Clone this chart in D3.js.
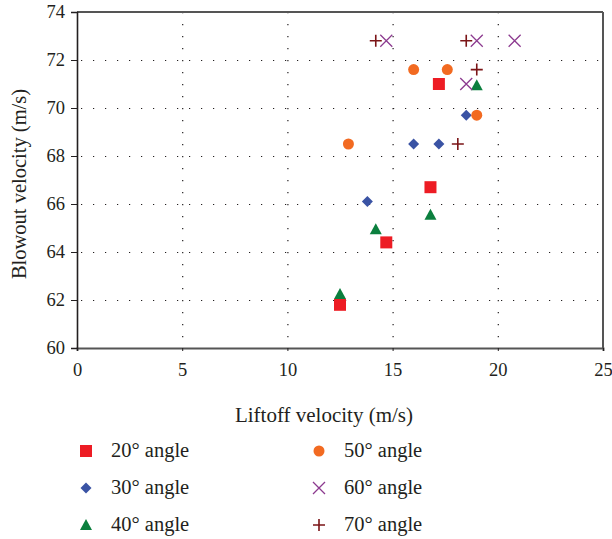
<!DOCTYPE html>
<html>
<head>
<meta charset="utf-8">
<script src="https://cdn.jsdelivr.net/npm/d3@7"></script>
<style>
  body { margin: 0; background: #fff; }
  .grid line { stroke: #231f20; stroke-width: 1.2; stroke-dasharray: 1.2,10.8; }
  .grid path { display: none; }
</style>
</head>
<body>
<div id="chart"></div>
<script>

// series names
var series = ["20\u00b0 angle", "30\u00b0 angle", "40\u00b0 angle", "50\u00b0 angle", "60\u00b0 angle", "70\u00b0 angle"];

// liftoff velocity (m/s), per series
var liftoff20 = [17.2, 16.8, 14.7, 12.5];
var liftoff30 = [18.5, 16.0, 17.2, 13.8];
var liftoff40 = [19.0, 16.8, 14.2, 12.5];
var liftoff50 = [16.0, 17.6, 19.0, 12.9];
var liftoff60 = [14.7, 19.0, 20.8, 18.5];
var liftoff70 = [14.2, 18.5, 19.0, 18.1];

// blowout velocity (m/s), per series
var blowout20 = [71.0, 66.7, 64.4, 61.8];
var blowout30 = [69.7, 68.5, 68.5, 66.1];
var blowout40 = [70.95, 65.55, 64.95, 62.25];
var blowout50 = [71.6, 71.6, 69.7, 68.5];
var blowout60 = [72.8, 72.8, 72.8, 71.0];
var blowout70 = [72.8, 72.8, 71.6, 68.5];

var xTicks = [0, 5, 10, 15, 20, 25];
var yTicks = [60, 62, 64, 66, 68, 70, 72, 74];

var colours = ["#ed1c24", "#3a53a4", "#0b7f3e", "#f26a21", "#8c3a8f", "#7b1517"];
var shapes = ["square", "diamond", "triangle", "circle", "cross", "plus"];

var allX = [liftoff20, liftoff30, liftoff40, liftoff50, liftoff60, liftoff70];
var allY = [blowout20, blowout30, blowout40, blowout50, blowout60, blowout70];

var serif = "'Liberation Serif'";

var margin = {top: 12, right: 9, bottom: 191, left: 77},
    width = 612 - margin.left - margin.right,
    height = 539 - margin.top - margin.bottom;

var x = d3.scaleLinear().domain([0, 25]).range([0, width]);
var y = d3.scaleLinear().domain([60, 74]).range([height, 0]);

var svg = d3.select("#chart").append("svg")
    .attr("width", 612)
    .attr("height", 539)
  .append("g")
    .attr("transform", "translate(" + margin.left + "," + margin.top + ")");

// gridlines
svg.append("g")
    .attr("class", "grid")
    .call(d3.axisBottom(x).tickValues(xTicks.slice(1, -1)).tickSize(height).tickFormat(""));

svg.append("g")
    .attr("class", "grid")
    .call(d3.axisRight(y).tickValues(yTicks.slice(1, -1)).tickSize(width).tickFormat(""))
    .selectAll("line").attr("x1", 4);

// frame top / right
svg.append("line").attr("x1", 0).attr("x2", width).attr("y1", 0).attr("y2", 0)
    .attr("stroke", "#555").attr("stroke-width", 2);
svg.append("line").attr("x1", width).attr("x2", width).attr("y1", 0).attr("y2", height)
    .attr("stroke", "#555").attr("stroke-width", 2);

// x axis
var xAxis = svg.append("g")
    .attr("transform", "translate(0," + height + ")")
    .call(d3.axisBottom(x).tickValues(xTicks).tickSize(3).tickPadding(12));
xAxis.select(".domain").attr("stroke", "#555").attr("stroke-width", 2);
xAxis.selectAll("line").attr("stroke", "#231f20");
xAxis.selectAll("text")
    .style("font-family", serif).style("font-size", "18.5px").attr("fill", "#231f20");

// y axis
var yAxis = svg.append("g")
    .call(d3.axisLeft(y).tickValues(yTicks).tickSize(6).tickPadding(6));
yAxis.select(".domain").attr("stroke", "#231f20").attr("stroke-width", 1.6);
yAxis.selectAll("line").attr("stroke", "#231f20");
yAxis.selectAll("text")
    .style("font-family", serif).style("font-size", "18.5px").attr("fill", "#231f20");

// axis titles
svg.append("text")
    .attr("x", 247)
    .attr("y", 410)
    .attr("text-anchor", "middle")
    .style("font-family", serif)
    .style("font-size", "21px")
    .attr("fill", "#231f20")
    .text("Liftoff velocity (m/s)");

svg.append("text")
    .attr("transform", "translate(-51," + 172 + ") rotate(-90)")
    .attr("text-anchor", "middle")
    .style("font-family", serif)
    .style("font-size", "20.5px")
    .attr("fill", "#231f20")
    .text("Blowout velocity (m/s)");

// marker drawing
function drawMarker(g, shape, colour) {
    if (shape == "square") {
        g.append("rect").attr("x", -6).attr("y", -6).attr("width", 12).attr("height", 12).attr("fill", colour);
    } else if (shape == "diamond") {
        g.append("path").attr("d", "M0,-5.5L5.5,0L0,5.5L-5.5,0Z").attr("fill", colour);
    } else if (shape == "triangle") {
        g.append("path").attr("d", "M0,-6L6,5L-6,5Z").attr("fill", colour);
    } else if (shape == "circle") {
        g.append("circle").attr("r", 5.5).attr("fill", colour);
    } else if (shape == "cross") {
        g.append("path").attr("d", "M-6,-6L6,6M6,-6L-6,6").attr("stroke", colour).attr("stroke-width", 1.3).attr("fill", "none");
    } else {
        g.append("path").attr("d", "M-6,0L6,0M0,-6L0,6").attr("stroke", colour).attr("stroke-width", 1.6).attr("fill", "none");
    }
}

// points
series.forEach(function(name, s) {
    var pts = allX[s].map(function(v, i) { return {x: v, y: allY[s][i]}; });
    svg.selectAll(".pt" + s)
        .data(pts)
        .enter().append("g")
        .attr("class", "pt" + s)
        .attr("transform", function(d) { return "translate(" + x(d.x) + "," + y(d.y) + ")"; })
        .each(function() { drawMarker(d3.select(this), shapes[s], colours[s]); });
});

// legend
var legend = svg.selectAll(".legend")
    .data(series)
    .enter().append("g")
    .attr("class", "legend")
    .attr("transform", function(d, i) {
        var col = Math.floor(i / 3), row = i % 3;
        return "translate(" + (9 + col * 233) + "," + (439 + row * 37) + ")";
    });

legend.each(function(d, i) { drawMarker(d3.select(this), shapes[i], colours[i]); });

legend.append("text")
    .attr("x", 25)
    .attr("y", 6)
    .style("font-family", serif)
    .style("font-size", "20.5px")
    .attr("fill", "#231f20")
    .text(function(d) { return d; });

</script>
</body>
</html>
